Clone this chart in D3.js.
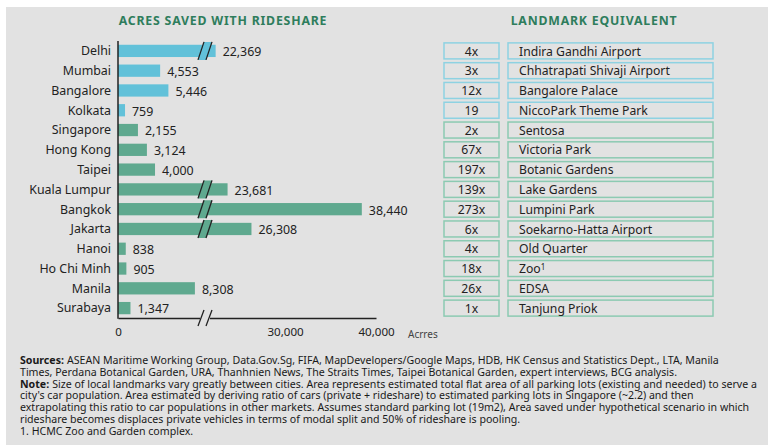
<!DOCTYPE html>
<html><head><meta charset="utf-8">
<script src="https://cdn.jsdelivr.net/npm/d3@7"></script>
<style>
html,body{margin:0;padding:0;background:#fff;}
svg{display:block;font-family:"Noto Sans",sans-serif;}
</style></head>
<body><svg id="c" width="768" height="445"></svg>
<script>
const cities = ["Delhi","Mumbai","Bangalore","Kolkata","Singapore","Hong Kong","Taipei","Kuala Lumpur","Bangkok","Jakarta","Hanoi","Ho Chi Minh","Manila","Surabaya"];
const acres = [22369,4553,5446,759,2155,3124,4000,23681,38440,26308,838,905,8308,1347];
const region = ["IN","IN","IN","IN","SEA","SEA","SEA","SEA","SEA","SEA","SEA","SEA","SEA","SEA"];
const multipliers = ["4x","3x","12x","19","2x","67x","197x","139x","273x","6x","4x","18x","26x","1x"];
const landmarks = ["Indira Gandhi Airport","Chhatrapati Shivaji Airport","Bangalore Palace","NiccoPark Theme Park","Sentosa","Victoria Park","Botanic Gardens","Lake Gardens","Lumpini Park","Soekarno-Hatta Airport","Old Quarter","Zoo","EDSA","Tanjung Priok"];
const landmarkNotes = ["","","","","","","","","","","","1","",""];
const tickValues = [0,30000,40000];
const breakLow = 9400, breakHigh = 21200;
const footer = [
  ["Sources:", "ASEAN Maritime Working Group, Data.Gov.Sg, FIFA, MapDevelopers/Google Maps, HDB, HK Census and Statistics Dept., LTA, Manila"],
  ["", "Times, Perdana Botanical Garden, URA, Thanhnien News, The Straits Times, Taipei Botanical Garden, expert interviews, BCG analysis."],
  ["Note:", "Size of local landmarks vary greatly between cities.  Area represents estimated total flat area of all parking lots (existing and needed) to serve a"],
  ["", "city's car population.  Area estimated by deriving ratio of cars (private + rideshare) to estimated parking lots in Singapore (~2.2) and then"],
  ["", "extrapolating this ratio to car populations in other markets. Assumes standard parking lot (19m2), Area saved under hypothetical scenario in which"],
  ["", "rideshare becomes displaces private vehicles in terms of modal split and 50% of rideshare is pooling."],
  ["", "1. HCMC Zoo and Garden complex."]
];

const BG = "#e2e2e2";
const colors = {IN:"#62c1d9", SEA:"#5fa98f"};
const boxColors = {IN:"#8ed2e2", SEA:"#8ccab2"};
const svg = d3.select("#c");
svg.append("rect").attr("x",6).attr("y",7).attr("width",762).attr("height",438).attr("fill",BG);

const x0 = 118, xBreak = 205, xEnd = 376;
const x = d3.scaleLinear().domain([0,breakLow,breakHigh,40000]).range([x0,xBreak,xBreak,xEnd]);
const y = d3.scaleBand().domain(cities).range([41,318]).paddingInner(0.38).paddingOuter(0.19);

// titles
svg.append("text").attr("x",223).attr("y",25).attr("text-anchor","middle")
  .attr("font-size",12.3).attr("font-weight","bold").attr("letter-spacing",0.8).attr("fill","#2e7d5c")
  .text("ACRES SAVED WITH RIDESHARE");
svg.append("text").attr("x",594).attr("y",25).attr("text-anchor","middle")
  .attr("font-size",12.3).attr("font-weight","bold").attr("letter-spacing",0.8).attr("fill","#2e7d5c")
  .text("LANDMARK EQUIVALENT");

// bars
const g = svg.append("g");
g.selectAll("rect.bar").data(cities).join("rect").attr("class","bar")
  .attr("x",x0).attr("y",d=>y(d)).attr("height",y.bandwidth())
  .attr("width",(d,i)=>x(acres[i])-x0).attr("fill",(d,i)=>colors[region[i]]);

// category labels
g.selectAll("text.cat").data(cities).join("text").attr("class","cat")
  .attr("x",111).attr("y",d=>y(d)+y.bandwidth()/2).attr("dy","0.35em")
  .attr("text-anchor","end").attr("font-size",12.4).attr("fill","#222").text(d=>d);

// value labels
const fmt = d3.format(",");
g.selectAll("text.val").data(cities).join("text").attr("class","val")
  .attr("x",(d,i)=>x(acres[i])+7).attr("y",d=>y(d)+y.bandwidth()/2+1).attr("dy","0.35em")
  .attr("font-size",12.4).attr("fill","#222").text((d,i)=>fmt(acres[i]));

// break marks on bars
function slashes(cy, half){
  [-4,4].forEach(off=>{
    svg.append("line").attr("x1",xBreak+off-3).attr("y1",cy+half).attr("x2",xBreak+off+3).attr("y2",cy-half)
      .attr("stroke","#222").attr("stroke-width",1.3);
  });
}
cities.forEach((c,i)=>{
  if(acres[i] > breakHigh){
    const cy = y(c)+y.bandwidth()/2;
    svg.append("polygon").attr("points",[[xBreak-7,cy+9],[xBreak+1,cy+9],[xBreak+7,cy-9],[xBreak-1,cy-9]].join(" "))
      .attr("fill",colors[region[i]]);
    slashes(cy, 9);
  }
});

// axes
const axis = d3.axisBottom(x).tickValues(tickValues).tickSize(0).tickSizeOuter(0).tickFormat(fmt).tickPadding(10);
const ax = svg.append("g").attr("transform","translate(0,318)").call(axis);
ax.select(".domain").attr("stroke","#222").attr("stroke-width",1.5);
ax.selectAll("text").attr("font-size",11.6).attr("fill","#222").attr("font-family","Noto Sans");
svg.append("line").attr("x1",x0).attr("x2",x0).attr("y1",41).attr("y2",318.75).attr("stroke","#222").attr("stroke-width",1.5);
svg.append("rect").attr("x",xBreak-5).attr("y",315).attr("width",10).attr("height",6).attr("fill",BG);
slashes(318, 8);
svg.append("text").attr("x",408).attr("y",338).attr("font-size",10).attr("fill","#444").text("Acrres");

// landmark table
const tg = svg.append("g");
cities.forEach((c,i)=>{
  const cy = y(c)+y.bandwidth()/2;
  const top = cy-8;
  tg.append("rect").attr("x",444).attr("y",top).attr("width",55).attr("height",16)
    .attr("fill","none").attr("stroke",boxColors[region[i]]).attr("stroke-width",1.5);
  tg.append("rect").attr("x",508).attr("y",top).attr("width",205).attr("height",16)
    .attr("fill","none").attr("stroke",boxColors[region[i]]).attr("stroke-width",1.5);
  tg.append("text").attr("x",471.5).attr("y",cy).attr("dy","0.38em").attr("text-anchor","middle")
    .attr("font-size",12.2).attr("fill","#222").text(multipliers[i]);
  const t = tg.append("text").attr("x",519).attr("y",cy).attr("dy","0.38em")
    .attr("font-size",12.2).attr("fill","#222").text(landmarks[i]);
  if(landmarkNotes[i]) t.append("tspan").attr("font-size",8).attr("dy","-0.45em").text(landmarkNotes[i]);
});

// footer
const fg = svg.append("g");
footer.forEach((l,i)=>{
  const yy = 364+i*11.8;
  let xx = 20;
  if(l[0]){
    const b = fg.append("text").attr("x",20).attr("y",yy).attr("font-size",10.6).attr("font-weight","bold").attr("fill","#1a1a1a").text(l[0]);
    xx = 20 + b.node().getComputedTextLength() + 3;
  }
  fg.append("text").attr("x",xx).attr("y",yy).attr("font-size",10.6).attr("fill","#1a1a1a").text(l[1]);
});
</script></body></html>
